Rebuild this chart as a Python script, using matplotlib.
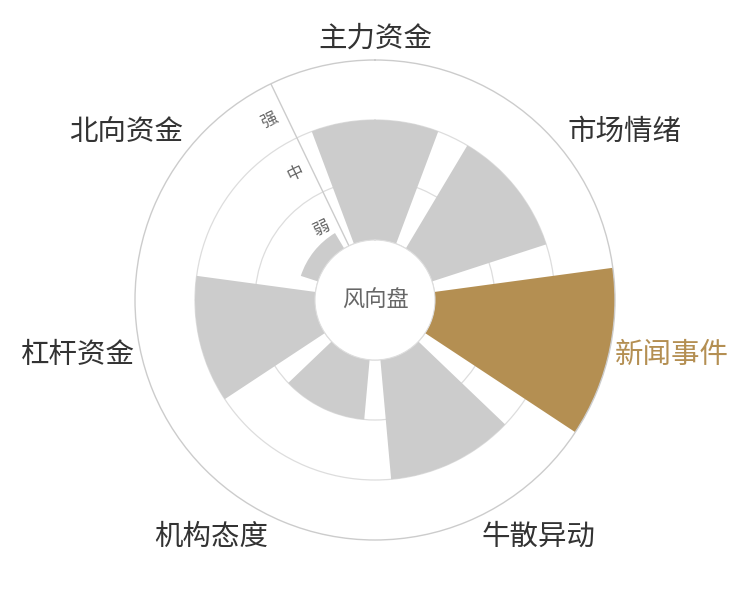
import numpy as np
import matplotlib
matplotlib.use('Agg')
import matplotlib.pyplot as plt

plt.rcParams['font.family'] = ['Noto Sans CJK SC', 'DejaVu Sans']

# --- datos ---
categories = ['主力资金', '市场情绪', '新闻事件', '牛散异动', '机构态度', '杠杆资金', '北向资金']
values = [2, 2, 3, 2, 1, 2, 0.3]
levels = ['弱', '中', '强']
highlight = '新闻事件'
center_title = '风向盘'

gray = '#cccccc'
gold = '#b48f52'

n = len(categories)
step = 2 * np.pi / n
thetas = np.arange(n) * step

fig = plt.figure(figsize=(7.5, 6), dpi=100)
ax = fig.add_axes([0.18, 0.1, 0.64, 0.8], projection='polar')
ax.set_theta_zero_location('N')
ax.set_theta_direction(-1)
ax.set_ylim(0, len(levels))
ax.set_rorigin(-1)

# barras
colors = [gold if c == highlight else gray for c in categories]
ax.bar(thetas, values, width=step * 0.8, bottom=0, color=colors,
       edgecolor='none', zorder=2)

# rejilla circular
ax.set_axisbelow(True)
ax.set_yticks(range(len(levels)))
ax.set_yticklabels([])
ax.set_xticks([])
ax.yaxis.grid(True, color='#dddddd', linewidth=0.9)
ax.xaxis.grid(False)
ax.spines['polar'].set_color('#cccccc')
ax.spines['polar'].set_linewidth(1)
if 'inner' in ax.spines:
    ax.spines['inner'].set_color('#dddddd')

# eje radial en el borde entre categorias
axis_theta = -step / 2
ax.plot([axis_theta, axis_theta], [0, len(levels)], color='#cccccc',
        linewidth=1, zorder=1)
rot = np.degrees(step / 2)
perp = np.radians(rot)
off = 17 * 0.72
for i, lab in enumerate(levels):
    ax.annotate(lab, xy=(axis_theta, i + 0.47),
                xytext=(-off * np.cos(perp), -off * np.sin(perp)),
                textcoords='offset points', rotation=rot,
                rotation_mode='anchor', ha='center', va='center',
                fontsize=12, color='#666666', annotation_clip=False)

# etiquetas de categorias
for th, lab in zip(thetas, categories):
    dx = np.sin(th)
    dy = -np.cos(th)
    ha = 'center' if abs(dx) < 0.3 else ('left' if dx > 0 else 'right')
    va = 'center' if abs(dy) < 0.3 else ('top' if dy > 0 else 'bottom')
    ax.text(th, len(levels) + 0.1, lab, ha=ha, va=va, fontsize=20.5,
            color=gold if lab == highlight else '#333333', clip_on=False)

# texto central
ax.text(0, -1, center_title, ha='center', va='center', fontsize=16,
        color='#666666')

fig.savefig('out.png', dpi=100, facecolor='white')
